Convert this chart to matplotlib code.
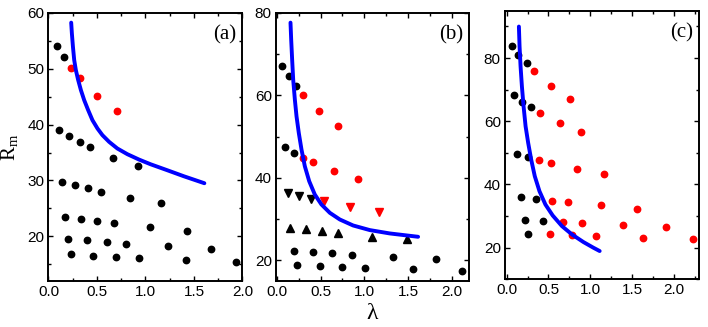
import matplotlib
matplotlib.use("Agg")
import matplotlib.pyplot as plt
from matplotlib.ticker import MultipleLocator

plt.rcParams['font.family'] = ['Liberation Sans', 'DejaVu Sans']
plt.rcParams['mathtext.fontset'] = 'custom'
plt.rcParams['mathtext.rm'] = 'Liberation Serif'

# ---- panel (a) ----
a_black_x = [0.084, 0.156,
             0.111, 0.214, 0.320, 0.426, 0.665, 0.926,
             0.139, 0.272, 0.406, 0.546, 0.844, 1.162,
             0.173, 0.334, 0.505, 0.680, 1.042, 1.429,
             0.203, 0.398, 0.601, 0.803, 1.230, 1.680,
             0.234, 0.460, 0.693, 0.929, 1.419, 1.932]
a_black_y = [54.1, 52.1,
             39.0, 37.9, 36.9, 36.0, 34.0, 32.6,
             29.8, 29.2, 28.6, 28.0, 26.9, 25.9,
             23.5, 23.1, 22.7, 22.3, 21.6, 21.0,
             19.5, 19.3, 19.05, 18.7, 18.25, 17.8,
             16.8, 16.5, 16.3, 16.2, 15.8, 15.4]
a_red_x = [0.234, 0.323, 0.505, 0.710]
a_red_y = [50.1, 48.3, 45.2, 42.4]
a_curve_x = [0.234, 0.241, 0.252, 0.265, 0.282, 0.306, 0.334, 0.368, 0.409, 0.453,
             0.505, 0.556, 0.625, 0.710, 0.813, 0.933, 1.052, 1.224, 1.395, 1.607]
a_curve_y = [58.27, 56.35, 53.96, 51.57, 49.78, 47.98, 46.19, 44.39, 42.60, 40.81,
             39.31, 38.12, 36.92, 35.73, 34.71, 33.75, 32.91, 31.84, 30.76, 29.51]

# ---- panel (b) ----
b_black_x = [0.054, 0.137, 0.221, 0.091, 0.194,
             0.198, 0.415, 0.632, 0.857, 1.326, 1.814,
             0.236, 0.491, 0.747, 1.010, 1.551, 2.114]
b_black_y = [67.2, 64.6, 62.3, 47.4, 46.1,
             22.2, 22.0, 21.7, 21.4, 20.9, 20.4,
             18.9, 18.6, 18.5, 18.2, 17.9, 17.5]
b_red_x = [0.301, 0.480, 0.697, 0.301, 0.415, 0.659, 0.926]
b_red_y = [60.0, 56.1, 52.6, 44.8, 43.75, 41.6, 39.6]
b_down_x = [0.122, 0.255, 0.389]
b_down_y = [36.35, 35.5, 34.8]
b_red_down_x = [0.537, 0.838, 1.166]
b_red_down_y = [34.3, 32.9, 31.8]
b_up_x = [0.152, 0.335, 0.514, 0.694, 1.089, 1.486]
b_up_y = [27.9, 27.5, 27.0, 26.6, 25.6, 25.1]
b_curve_x = [0.156, 0.164, 0.175, 0.187, 0.206, 0.225, 0.251, 0.282, 0.320, 0.370,
             0.434, 0.510, 0.606, 0.720, 0.872, 1.063, 1.291, 1.615]
b_curve_y = [77.59, 73.40, 68.57, 63.74, 58.90, 54.87, 50.85, 46.82, 42.79, 39.17,
             35.95, 33.53, 31.51, 29.90, 28.45, 27.33, 26.52, 25.71]

# ---- panel (c) ----
c_black_x = [0.068, 0.139, 0.238, 0.087, 0.178, 0.285, 0.119, 0.249,
             0.166, 0.348, 0.214, 0.436, 0.249]
c_black_y = [83.9, 81.0, 78.4, 68.2, 66.2, 64.5, 49.8, 48.7,
             36.0, 35.5, 28.8, 28.5, 24.4]
c_red_x = [0.329, 0.526, 0.752, 0.400, 0.633, 0.887,
           0.392, 0.534, 0.839, 1.164, 0.538, 0.733, 1.132, 1.556,
           0.673, 0.903, 1.393, 1.908, 0.514, 0.787, 1.065, 1.635, 2.225]
c_red_y = [75.8, 71.2, 67.0, 62.7, 59.6, 56.7,
           47.8, 46.8, 44.9, 43.4, 34.8, 34.4, 33.4, 32.4,
           28.2, 27.9, 27.1, 26.6, 24.2, 24.0, 23.7, 23.2, 22.8]
c_curve_x = [0.146, 0.154, 0.166, 0.182, 0.202, 0.226, 0.257, 0.293, 0.336, 0.392,
             0.463, 0.550, 0.661, 0.780, 0.918, 1.037, 1.112]
c_curve_y = [89.98, 83.67, 77.35, 71.04, 64.72, 58.41, 53.15, 47.88, 42.62, 37.88,
             33.67, 30.20, 26.83, 24.20, 21.78, 19.99, 18.94]

fig = plt.figure(figsize=(7.08, 3.27), dpi=100)
ax_a = fig.add_axes([0.0685, 0.1407, 0.274, 0.8196])
ax_b = fig.add_axes([0.3898, 0.1407, 0.273, 0.8205])
ax_c = fig.add_axes([0.7133, 0.1459, 0.274, 0.8214])

ms = 4.6
curve_kw = dict(color='blue', lw=2.8, solid_capstyle='round', zorder=3)

ax_a.plot(a_black_x, a_black_y, 'o', color='black', ms=ms, zorder=2)
ax_a.plot(a_red_x, a_red_y, 'o', color='red', ms=ms, zorder=2)
ax_a.plot(a_curve_x, a_curve_y, **curve_kw)

ax_b.plot(b_black_x, b_black_y, 'o', color='black', ms=ms, zorder=2)
ax_b.plot(b_red_x, b_red_y, 'o', color='red', ms=ms, zorder=2)
ax_b.plot(b_down_x, b_down_y, 'v', color='black', ms=ms + 0.6, zorder=2)
ax_b.plot(b_red_down_x, b_red_down_y, 'v', color='red', ms=ms + 0.6, zorder=2)
ax_b.plot(b_up_x, b_up_y, '^', color='black', ms=ms + 0.6, zorder=2)
ax_b.plot(b_curve_x, b_curve_y, **curve_kw)

ax_c.plot(c_black_x, c_black_y, 'o', color='black', ms=ms, zorder=2)
ax_c.plot(c_red_x, c_red_y, 'o', color='red', ms=ms, zorder=2)
ax_c.plot(c_curve_x, c_curve_y, **curve_kw)

ax_a.set_xlim(0, 2.0)
ax_a.set_ylim(12, 60)
ax_b.set_xlim(-0.01, 2.2)
ax_b.set_ylim(15, 80)
ax_c.set_xlim(-0.02, 2.3)
ax_c.set_ylim(10, 95)

for ax, label, ymaj, ymin in [(ax_a, '(a)', 10, 5), (ax_b, '(b)', 20, 10), (ax_c, '(c)', 20, 10)]:
    ax.xaxis.set_major_locator(MultipleLocator(0.5))
    ax.xaxis.set_minor_locator(MultipleLocator(0.25))
    ax.yaxis.set_major_locator(MultipleLocator(ymaj))
    ax.yaxis.set_minor_locator(MultipleLocator(ymin))
    ax.tick_params(which='both', direction='in', top=True, right=True, width=1.0)
    ax.tick_params(which='major', length=3.5, labelsize=11, pad=3)
    ax.tick_params(which='minor', length=2.5)
    for sp in ax.spines.values():
        sp.set_linewidth(1.4)
    ax.xaxis.set_major_formatter(plt.FuncFormatter(lambda v, p: f'{v:.1f}'))
    ax.text(0.97, 0.955, label, transform=ax.transAxes, ha='right', va='top',
            fontsize=15, family='Liberation Serif')

ax_a.set_ylabel(r'$\mathrm{R_m}$', fontsize=15, labelpad=5)
ax_b.set_xlabel('λ', fontsize=17, labelpad=3, family='Liberation Serif')

plt.savefig('out.png', dpi=100)
